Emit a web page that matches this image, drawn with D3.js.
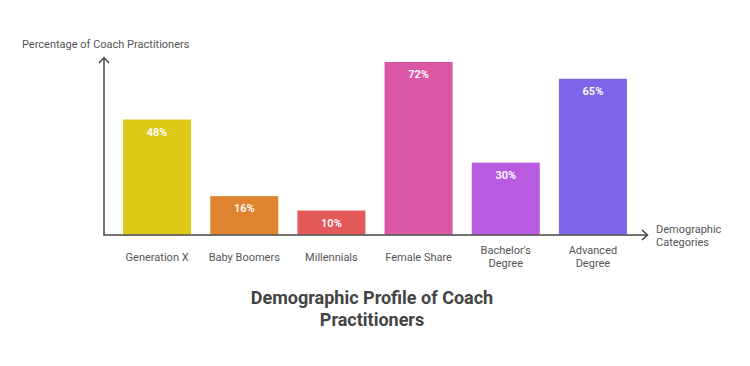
<!DOCTYPE html>
<html><head><meta charset="utf-8">
<script src="https://cdn.jsdelivr.net/npm/d3@7"></script>
<style>body{margin:0;background:#fff}svg{display:block;font-family:Roboto,"Noto Sans",sans-serif}</style>
</head><body>
<svg id="c" width="750" height="366"></svg>
<script>
const categories = ["Generation X","Baby Boomers","Millennials","Female Share","Bachelor's Degree","Advanced Degree"];
const categoryLines = [["Generation X"],["Baby Boomers"],["Millennials"],["Female Share"],["Bachelor's","Degree"],["Advanced","Degree"]];
const values = [48,16,10,72,30,65];
const valueLabels = ["48%","16%","10%","72%","30%","65%"];
const colors = ["#DDC918","#E0842F","#E35858","#DB56A4","#B95BE1","#7E64E8"];
const titleLines = ["Demographic Profile of Coach","Practitioners"];
const yTitle = "Percentage of Coach Practitioners";
const xTitleLines = ["Demographic","Categories"];

const svg = d3.select("#c");
const x = d3.scaleBand().domain(categories).range([113.5,636.5]).paddingInner(0.22).paddingOuter(0.11);
const y = d3.scaleLinear().domain([0,72]).range([234.5,62]);
const axisColor = "#444";

svg.selectAll("rect.bar").data(values).join("rect")
  .attr("x",(d,i)=>x(categories[i])).attr("width",x.bandwidth())
  .attr("y",d=>y(d)).attr("height",d=>y(0)-y(d))
  .attr("fill",(d,i)=>colors[i]);

svg.selectAll("text.val").data(values).join("text")
  .attr("x",(d,i)=>x(categories[i])+x.bandwidth()/2).attr("y",d=>y(d)+16)
  .attr("text-anchor","middle").attr("fill","#fff").attr("font-size",11).attr("font-weight",600)
  .text((d,i)=>valueLabels[i]);

// axes
svg.append("line").attr("x1",104).attr("x2",104).attr("y1",58).attr("y2",235).attr("stroke",axisColor).attr("stroke-width",1.5);
svg.append("path").attr("d","M99,63 L104,57.5 L109,63").attr("fill","none").attr("stroke",axisColor).attr("stroke-width",1.5);
svg.append("line").attr("x1",103.25).attr("x2",647).attr("y1",235).attr("y2",235).attr("stroke",axisColor).attr("stroke-width",1.5);
svg.append("path").attr("d","M642,230 L647.5,235 L642,240").attr("fill","none").attr("stroke",axisColor).attr("stroke-width",1.5);

// category labels
const cl = svg.selectAll("text.cat").data(categoryLines).join("text")
  .attr("text-anchor","middle").attr("fill","#555").attr("font-size",11)
  .attr("transform",(d,i)=>`translate(${x(categories[i])+x.bandwidth()/2},0)`);
cl.each(function(lines){
  const t=d3.select(this);
  const y0 = lines.length===1 ? 261 : 254;
  lines.forEach((l,j)=>t.append("tspan").attr("x",0).attr("y",y0+j*13).text(l));
});

svg.append("text").attr("x",22).attr("y",48).attr("fill","#555").attr("font-size",11).text(yTitle);
const xt = svg.append("text").attr("fill","#555").attr("font-size",11);
xTitleLines.forEach((l,j)=>xt.append("tspan").attr("x",656).attr("y",233+j*13).text(l));

const tt = svg.append("text").attr("text-anchor","middle").attr("fill","#444").attr("font-size",18).attr("font-weight",700);
titleLines.forEach((l,j)=>tt.append("tspan").attr("x",372).attr("y",304+j*22).text(l));
</script>
</body></html>
